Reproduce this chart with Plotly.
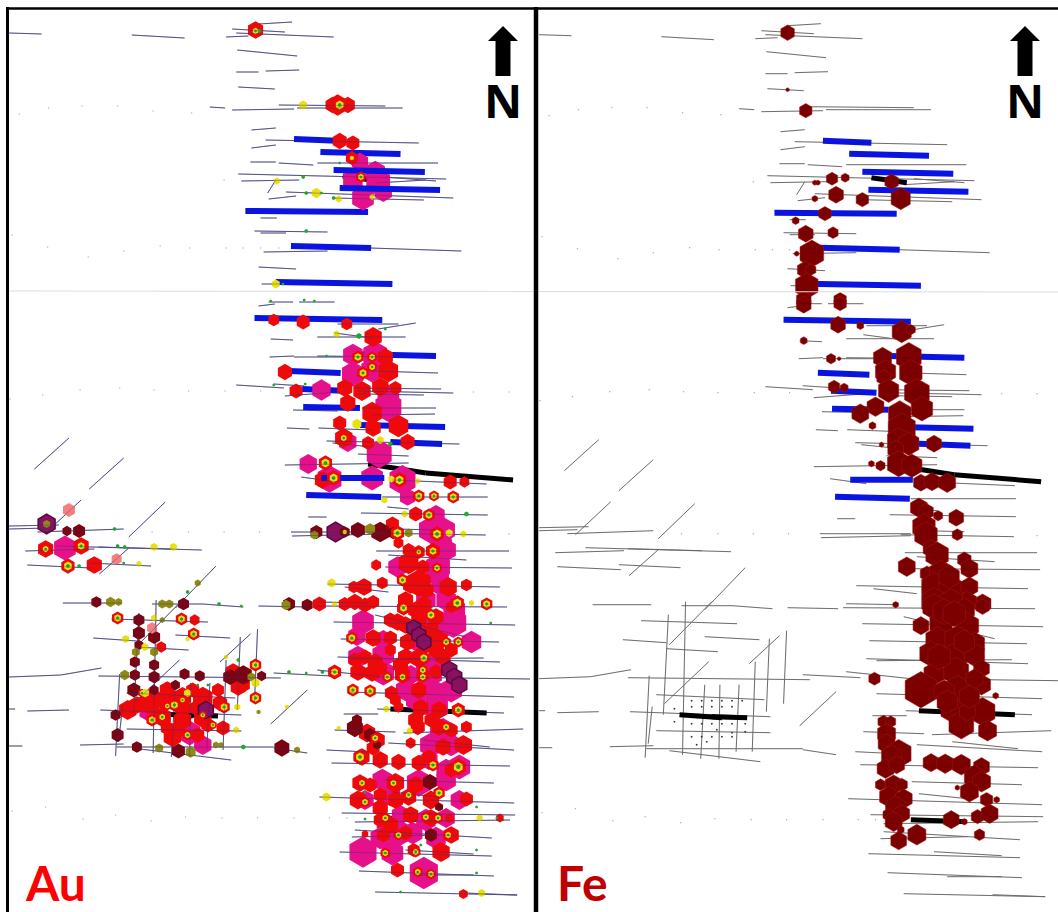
import plotly.graph_objects as go

W, H = 1058, 912

# drill-hole traces as (x0, y0, x1, y1), shared by the two maps
holes = [
 (9,33,41,34),(130,35,182,38),(229,29,281,32),(223,37,245,36),(233,33,329,37),(255,24,288,22),
 (234,50,293,56),(233,72,255,72),(262,71,295,70),(235,87,271,89),(207,107,222,108),(229,110,290,109),
 (275,105,380,106),(293,108,397,108),(248,130,272,128),(262,140,413,143),(248,148,272,145),(247,162,272,162),
 (275,163,309,165),(313,163,432,163),(235,174,440,179),(238,181,295,180),(264,193,272,180),(282,192,447,198),
 (265,199,292,196),(328,198,418,200),(257,218,273,218),(251,231,323,232),(257,233,282,233),(260,252,323,251),
 (365,248,455,251),(255,267,292,269),(258,284,277,284),(380,177,430,181),(370,183,420,180),
 (255,306,271,304),(265,302,289,302),(295,302,330,302),(333,324,393,324),(373,329,410,323),(313,337,400,337),
 (330,333,367,338),(267,339,289,340),(266,357,290,356),(290,357,340,357),(313,356,400,357),(367,371,432,373),
 (233,385,280,388),(270,384,300,386),(281,396,333,392),(350,388,435,389),(353,391,447,393),(357,394,418,395),
 (289,410,333,411),(357,408,430,408),(367,415,429,414),(283,428,305,429),(314,428,367,430),(322,441,453,444),
 (328,443,367,447),(353,454,403,456),(281,465,403,463),(297,477,333,482),(387,480,480,484),(377,497,481,497),
 (382,507,403,509),(304,517,322,517),(356,513,481,515),(287,532,377,532),(288,536,377,534),(390,529,430,530),
 (367,533,479,535),(371,551,502,551),(383,555,460,560),(380,567,505,568),(323,584,493,587),(340,587,383,592),
 (313,602,363,603),(310,606,500,607),
 (34,469,68,438),(88,489,122,458),(45,533,80,500),(127,537,163,502),(98,574,127,548),(173,608,213,566),
 (9,526,58,525),(9,529,47,528),(37,532,122,529),(25,551,93,549),(55,546,199,550),(97,547,170,549),
 (27,565,90,568),(88,563,149,566),(62,603,120,603),(150,604,200,604),(200,604,240,607),(255,606,305,607),
 (110,619,205,622),(92,638,135,641),(135,647,186,650),(173,635,227,638),(9,677,60,675),(60,675,100,668),
 (97,676,277,678),(270,673,327,676),(125,693,232,698),(9,709,15,709),(27,711,68,710),(99,710,238,715),
 (125,729,238,731),(9,746,22,746),(79,745,122,744),(115,747,270,747),(270,748,303,753),(138,749,228,760),
 (137,613,132,713),(154,600,151,753),(173,683,169,757),(188,683,187,757),(207,683,204,750),(223,660,220,750),
 (237,637,234,710),(254,629,251,702),(118,674,114,756),(121,705,117,742),
 (138,643,180,600),(133,702,177,660),(217,662,247,634),(267,724,303,690),
 (329,622,508,625),(370,615,460,637),(336,639,492,642),(333,657,493,662),(343,659,477,658),(313,670,377,677),
 (377,677,523,679),(343,692,507,697),(372,709,497,713),(339,714,373,714),(330,730,390,732),(398,733,516,729),
 (383,743,507,750),(322,750,363,752),(418,740,483,747),(327,763,503,766),(378,780,487,783),(385,792,433,797),
 (315,797,507,803),(337,813,508,815),(350,822,503,820),(350,830,485,838),(347,837,433,835),(335,852,485,856),
 (400,850,467,854),(354,871,487,876),(413,875,467,875),(370,892,510,895),(458,893,510,895),
]

blue_under = [(290,139,338,141),(316,152,395,154),(242,211,363,212),(287,246,366,248),(272,282,387,284),
              (251,318,377,320),(345,354,430,356),(285,371,336,373),(298,389,343,391),(299,407,355,408),
              (355,425,439,427),(385,442,436,444),(302,495,376,497)]
blue_over = [(329,170,419,172),(335,188,434,190),(317,478,379,478)]
black_bars = [(338,176,373,181),(363,464,420,473),(420,473,506,480),(148,713,190,716),(180,715,215,716),(385,709,480,713),(377,818,432,820)]

specks = [(19,114),(48,108),(81,106),(116,106),(151,111),(189,113),(221,180),(12,235),(47,247),(87,257),(122,251),
          (158,246),(187,248),(223,248),(240,248),(257,248),(275,248),(10,399),(42,395),(79,390),(118,388),(152,390),
          (186,391),(222,391),(257,391),(467,392),(502,392),(150,532),(186,532),(221,532),(256,532),(502,534),
          (12,811),(45,807),(82,819),(114,815),(149,821),(183,817),(219,818),(254,818),(290,818),(325,818),(342,818)]

fe_grid = [(160,699),(170,699),(180,699),(190,699),(200,699),(210,699),(160,705),(170,705),(180,705),(190,705),(200,705),
           (143,707),(160,722),(170,722),(180,722),(190,722),(200,722),(213,722),(143,720),(160,735),(170,735),(180,735),
           (190,735),(200,735),(213,730),(165,743),(175,740),(200,731),(185,728)]

# Au assay samples as (x, y, grade class size)
au_pink = [(355,162,15),(370,172,18),(348,180,18),(373,182,22),(378,192,16),(358,198,20),(348,355,18),(370,355,22),
           (348,374,20),(367,370,20),(317,390,17),(383,407,24),(383,397,20),(343,442,16),(374,454,23),(304,464,16),
           (325,479,22),(367,478,20),(397,480,24),(402,497,14),(425,530,22),(440,550,18),(392,567,17),(432,567,22),
           (64,548,20),(358,622,20),(353,657,18),(378,655,20),(378,673,20),(447,623,24),(465,642,18),(423,673,24),
           (430,707,22),(437,733,24),(453,767,20),(423,760,16),(377,780,18),(413,783,22),(393,833,22),(358,852,25),
           (387,853,20),(418,873,26),(420,820,18),(380,823,16),(407,833,18),(433,630,18),(430,693,20),(187,733,20),
           (435,585,18),(420,600,18),(448,610,20),(432,660,18),(453,800,16),(440,600,18),(430,515,16),(438,530,20),
           (435,545,20),(432,575,20),(410,700,18),(445,690,20),(445,745,18),(425,745,20),(440,770,18),(440,780,18),
           (360,800,16),(385,795,18),(395,815,16),(440,818,16),(375,838,18),(430,838,18),(200,745,16),(145,712,14),
           (378,640,16),(352,636,16),(410,640,18),(420,620,18),(405,675,16),(400,690,18)]
au_red = [(252,30,14),(328,105,13),(333,105,17),(343,105,13),(335,141,13),(348,143,12),(347,158,11),(270,320,10),
          (299,322,12),(342,324,10),(368,337,16),(380,357,14),(281,372,13),(383,371,18),(292,391,12),(340,388,14),
          (357,391,16),(375,387,15),(390,388,11),(343,403,14),(367,413,18),(368,428,14),(335,423,12),(393,426,18),
          (339,438,16),(363,443,11),(402,442,13),(318,480,14),(444,482,12),(458,482,9),(410,514,12),(387,524,12),
          (427,551,13),(413,552,11),(403,550,11),(393,543,9),(371,565,9),(403,563,18),(417,567,12),(460,585,10),
          (442,587,16),(413,583,22),(405,585,14),(377,583,10),(359,587,14),(349,587,10),(315,604,12),(340,604,11),
          (350,602,13),(368,602,11),(45,549,14),(80,546,14),(93,565,14),
          (392,622,14),(368,638,14),(402,642,14),(433,640,16),(413,620,14),(430,617,14),(418,605,14),(398,608,12),
          (360,657,12),(370,662,14),(400,657,14),(413,658,16),(437,657,14),(353,672,14),(367,673,14),(397,675,14),
          (417,675,12),(348,691,8),(365,691,8),(386,693,12),(413,690,14),(415,708,14),(433,710,14),(452,710,12),
          (393,707,9),(412,727,13),(433,727,14),(460,727,10),(457,745,16),(437,747,14),(405,743,9),(362,733,15),
          (372,740,14),(357,757,14),(375,760,14),(393,762,13),(423,757,12),(413,763,13),(355,783,14),(390,783,16),
          (353,800,15),(375,808,14),(403,797,14),(425,800,15),(460,799,12),(443,818,8),(493,818,7),(375,820,12),
          (360,834,6),(378,835,12),(445,835,14),(435,852,16),(408,850,11),(392,870,12),(457,894,8),
          (126,710,16),(147,703,18),(163,700,18),(180,697,16),(200,698,18),(217,703,13),(160,717,16),(180,720,16),
          (200,718,16),(220,728,12),(170,737,16),(159,647,9),(192,620,9),(235,687,14),(330,672,12),
          (410,610,14),(445,607,10),(385,650,10),(420,645,14),(390,700,10),(400,625,14),(425,630,14),(385,638,12),
          (395,665,14),(430,672,12),(375,668,12),(350,660,12),(385,620,12),(430,650,14),(445,650,12),(410,720,14),
          (425,720,12),(445,730,12),(368,748,12),(375,795,12),(390,800,14),(410,785,14),(365,785,12),(385,825,14),
          (405,815,14),(425,818,14),(400,833,12),(165,690,14),(150,695,12),(195,708,14),(215,690,11),(175,730,14),
          (150,705,14),(195,735,12),(165,728,12),(445,770,12),(400,600,14),(420,590,14),(360,605,12),
          (135,705,14),(190,690,12),(205,725,12),(180,708,14),(230,672,14),(240,685,12)]
au_dark = [(66,531,9),(78,531,12),(312,532,12),(340,532,10),(353,530,14),(375,532,18),(388,533,11),(95,602,10),(181,604,11),
           (285,604,12),(303,605,11),(137,620,11),(137,633,12),(133,662,10),(132,690,13),(152,637,12),(152,665,10),
           (152,677,11),(182,674,10),(197,676,10),(227,677,14),(240,675,17),(258,676,9),(114,715,10),(116,735,12),
           (135,747,10),(176,751,13),(278,748,15),(173,685,9),(350,728,16),(352,720,10),(424,782,14),(433,807,8),(425,835,12),
           (137,645,9),(133,675,10),(152,690,9),(365,735,12),(372,745,8)]
au_purple = [(46,524,17),(331,532,17),(203,710,15),(408,628,14),(413,635,14),(418,642,14),(443,670,15),(448,677,15),(453,685,15)]
au_salmon = [(68,510,12),(115,559,10),(150,628,10)]
au_olive = [(46,524,7),(310,535,8),(365,529,10),(403,533,8),(109,602,9),(117,602,7),(160,604,8),(167,604,8),(195,583,6),
            (282,605,9),(134,652,8),(123,675,9),(152,652,8),(248,677,8),(157,748,8),(188,752,10),(213,745,6),(218,745,5),
            (293,750,6),(255,712,4),(160,620,5)]
au_yellow = [(299,105,8),(273,181,6),(312,193,9),(334,199,6),(367,197,5),(347,158,4),(272,284,8),(332,334,6),
             (352,424,9),(375,440,7),(386,479,6),(412,481,5),(379,500,6),(399,514,6),(443,533,7),(457,534,6),
             (340,532,4),(152,547,7),(171,547,7),(137,564,5),(327,583,8),(330,604,5),(465,603,5),(322,797,8),(381,709,6),
             (475,893,7),(334,728,4),(404,731,6),(473,818,6),(143,693,8),(143,647,7),(124,639,7),(152,618,6),(185,639,4),
             (252,683,8),(234,707,6),(223,657,4),(283,707,4),(185,693,7),(233,730,6)]
au_green = [(256,31,4),(299,177,4),(302,193,4),(317,193,3),(329,198,4),(302,231,4),(279,284,3),(335,163,3),(354,336,6),
            (385,444,5),(460,514,5),(113,529,4),(116,546,4),(123,547,4),(78,566,4),(122,563,3),(185,592,4),(216,604,4),
            (238,606,3),(285,672,4),(302,673,3),(318,672,4),(235,660,4),(240,747,5),(195,685,3),(205,685,3),(300,300,3),
            (310,301,3),(267,301,3),(380,329,3),(322,356,3),(270,385,3),(301,384,3),(484,623,3),(360,792,3),(470,807,3),
            (490,818,3),(360,819,3),(470,850,3),(470,873,3),(415,845,3),(395,892,3)]
# concentric red / yellow / green samples
au_rings = [(252,31,5),(335,105,7),(356,177,5),(321,463,7),(329,478,7),(394,480,7),(413,496,6),(428,496,5),(447,497,6),
            (423,515,6),(392,533,7),(431,534,7),(67,566,7),(397,580,6),(451,603,7),(480,604,6),(116,618,6),
            (179,619,6),(191,634,6),(252,665,6),(252,698,6),(150,720,6),(172,705,6),(221,707,6),(398,608,6),(425,615,6),
            (440,642,5),(452,642,5),(418,658,6),(417,670,5),(417,677,5),(382,677,5),(397,677,5),(347,638,6),(365,691,6),
            (348,690,6),(452,710,6),(440,727,5),(355,757,7),(452,767,8),(427,765,6),(433,793,6),(403,795,5),(360,802,5),
            (370,738,5),(412,872,5),(425,874,5),(393,835,5),(380,853,5),(410,852,5),(442,835,5),(420,817,5),(432,818,5),
            (380,818,5),(357,783,5),(388,783,5),(427,551,6),(431,568,5),(413,552,4),(367,357,5),(353,357,6),(358,373,6),
            (367,367,5),(45,549,5),(80,546,6),(339,438,5),(330,672,6),(160,717,5),(140,693,4),(180,700,4),(200,715,4),
            (165,706,4),(210,725,4),(185,735,5)]

# Fe assay samples as (x, y, grade class size)
fe_samples = [(255,31,12),(255,88,3),(273,109,11),(299,177,10),(312,176,7),(282,181,4),(285,181,4),(303,193,13),(329,198,11),
 (367,197,17),(282,197,5),(358,180,12),(292,212,11),(263,219,6),(273,232,13),(300,231,9),(264,252,4),(279,252,21),(272,268,13),
 (278,268,9),(274,284,20),(271,298,13),(307,298,11),(271,303,13),(307,302,11),(305,323,13),(327,324,6),(368,330,17),(377,328,8),
 (271,339,6),(298,357,8),(306,357,3),(349,356,16),(375,355,22),(352,370,18),(377,371,20),(350,376,12),(301,385,10),(311,386,7),
 (355,389,18),(383,391,22),(388,407,19),(342,405,15),(327,412,15),(366,412,20),(339,424,6),(368,427,24),(365,439,20),(375,442,18),
 (400,442,13),(348,443,4),(362,448,14),(338,462,5),(347,464,8),(365,462,20),(378,464,18),(387,481,13),(398,480,14),(413,481,15),
 (385,506,15),(392,510,13),(404,514,8),(422,516,13),(390,525,20),(392,533,20),(423,533,9),(397,547,14),(403,553,20),(430,558,12),
 (435,567,15),(373,565,15),(393,572,12),(407,572,21),(400,585,22),(417,588,22),(435,585,15),(362,603,5),(448,602,15),(400,600,22),
 (433,600,16),(417,600,20),(400,605,20),(430,608,18),(448,605,12),(387,624,14),(407,622,20),(433,624,20),(403,638,20),(423,638,22),
 (440,642,18),(397,652,20),(420,655,22),(440,653,18),(447,667,14),(400,672,18),(422,670,22),(447,683,16),(387,688,28),(423,688,22),
 (440,677,15),(341,677,10),(418,708,20),(448,710,22),(427,723,22),(453,729,16),(461,694,5),(433,710,14),
 (350,720,10),(357,720,9),(353,732,16),(353,742,15),(365,752,22),(358,755,18),(352,767,15),(363,763,14),(397,761,14),(411,762,15),
 (427,763,16),(447,765,14),(440,775,18),(447,780,16),(435,790,16),(452,798,11),(462,798,5),(347,783,9),(360,783,15),(368,783,10),
 (355,795,16),(370,797,15),(362,806,18),(355,813,10),(368,812,14),(360,820,15),(417,818,14),(430,820,5),(443,815,11),(455,812,15),
 (367,828,6),(365,839,14),(383,833,16),(445,833,9),(423,786,4),(415,575,18),(410,610,20),(420,612,20),(410,690,18),(435,695,18),
 (405,655,20),(430,640,18),(413,700,18)]

N_LEFT = (503, 100)
N_RIGHT = (1025, 100)
LABELS = [("Au", 23, "#ff0000"), ("Fe", 555, "#c00000")]
GAIN_AU, GAIN_FE, GAIN_RING = 1.25, 1.3, 1.15
X_SPAN = 522.7  # map units across each panel


def seg_xy(segs):
    xs, ys = [], []
    for x0, y0, x1, y1 in segs:
        xs += [x0, x1, None]
        ys += [y0, y1, None]
    return xs, ys


def line_trace(segs, color, width, axis, opacity=1.0):
    xs, ys = seg_xy(segs)
    return go.Scatter(x=xs, y=ys, mode="lines", line=dict(color=color, width=width), opacity=opacity,
                      xaxis="x" + axis, yaxis="y" + axis, hoverinfo="skip", showlegend=False)


def marker_trace(pts, color, axis, edge=None, edge_w=0, gain=1.0):
    return go.Scatter(x=[p[0] for p in pts], y=[p[1] for p in pts], mode="markers",
                      marker=dict(symbol="hexagon", color=color, opacity=1, size=[p[2] * gain for p in pts],
                                  line=dict(color=edge or color, width=edge_w)),
                      xaxis="x" + axis, yaxis="y" + axis, hoverinfo="skip", showlegend=False)


fig = go.Figure()
LINE_AU, LINE_FE = "#6a6a90", "#7c7c7c"
BLUE = "#0a14e0"

# ---- Au map
fig.add_trace(line_trace(holes, LINE_AU, 1, ""))
fig.add_trace(marker_trace([(x, y, 1.5) for x, y in specks], "#bbbbbb", ""))
fig.add_trace(line_trace(blue_under, BLUE, 6, ""))
fig.add_trace(line_trace(black_bars, "#000000", 5, ""))
fig.add_trace(marker_trace(au_pink, "#e5108a", "", gain=GAIN_AU))
fig.add_trace(marker_trace(au_red, "#ee0a0a", "", gain=GAIN_AU))
fig.add_trace(marker_trace(au_purple, "#8a1060", "", "#5a0840", 1.5, gain=GAIN_RING))
fig.add_trace(marker_trace(au_dark, "#7c0410", "", gain=GAIN_RING))
fig.add_trace(marker_trace(au_salmon, "#f47f7f", "", gain=GAIN_RING))
fig.add_trace(marker_trace(au_olive, "#8f8a14", "", gain=GAIN_RING))
fig.add_trace(line_trace(blue_over, BLUE, 6, ""))
fig.add_trace(marker_trace([(x, y, s * 1.9) for x, y, s in au_rings], "#ee0a0a", "", gain=GAIN_RING))
fig.add_trace(marker_trace([(x, y, s * 1.1) for x, y, s in au_rings], "#e8e010", "", gain=GAIN_RING))
fig.add_trace(marker_trace(au_yellow, "#e8e010", "", gain=GAIN_RING))
fig.add_trace(line_trace(holes, "#2c2c78", 0.8, "", 0.45))
fig.add_trace(marker_trace([(x, y, s * 0.5) for x, y, s in au_rings], "#1f9a2a", "", gain=GAIN_RING))
fig.add_trace(marker_trace(au_green, "#1fa82a", ""))

# ---- Fe map
fig.add_trace(line_trace(holes, LINE_FE, 1, "2"))
fig.add_trace(marker_trace([(x, y, 1.5) for x, y in specks], "#aaaaaa", "2"))
fig.add_trace(marker_trace([(x, y, 2) for x, y in fe_grid], "#333333", "2"))
fig.add_trace(line_trace(blue_under + blue_over, BLUE, 6, "2"))
fig.add_trace(line_trace(black_bars, "#000000", 5, "2"))
fig.add_trace(marker_trace(fe_samples, "#7c0000", "2", "#a01818", 0.5, gain=GAIN_FE))
fig.add_trace(line_trace(holes, "#300000", 0.6, "2", 0.2))

shapes = []


def px_line(x0, y0, x1, y1, color, w):
    shapes.append(dict(type="line", xref="paper", yref="paper", x0=x0 / W, x1=x1 / W, y0=1 - y0 / H, y1=1 - y1 / H,
                       line=dict(color=color, width=w), layer="above"))


px_line(9, 291, 1058, 292, "#dcdcdc", 1)
px_line(7.5, 7, 7.5, 912, "#000000", 3)
px_line(536, 7, 536, 912, "#000000", 4.5)
px_line(6, 8.5, 1058, 8.5, "#000000", 2.5)

annotations = []
for (cx, top) in [(503, 26), (1025, 26)]:
    pts = [(cx, top), (cx + 15, top + 15), (cx + 7.5, top + 15), (cx + 7.5, top + 50), (cx - 7.5, top + 50),
           (cx - 7.5, top + 15), (cx - 15, top + 15)]
    path = "M " + " L ".join(f"{x / W:.5f} {1 - y / H:.5f}" for x, y in pts) + " Z"
    shapes.append(dict(type="path", xref="paper", yref="paper", path=path, fillcolor="#000000",
                       line=dict(color="#000000", width=0), layer="above"))

for cx, cy in (N_LEFT, N_RIGHT):
    annotations.append(dict(text="<b>N</b>", x=cx / W, y=1 - cy / H, xref="paper", yref="paper", showarrow=False,
                            font=dict(family="Noto Sans", size=47, color="#000000"), xanchor="center", yanchor="middle"))
for text, x, color in LABELS:
    annotations.append(dict(text=f"<b>{text}</b>", x=x / W, y=1 - 882 / H, xref="paper", yref="paper", showarrow=False,
                            font=dict(family="Lato", size=48, color=color), xanchor="left", yanchor="middle"))

hidden = dict(visible=False, showgrid=False, zeroline=False, fixedrange=True)
fig.update_layout(
    width=W, height=H, margin=dict(l=0, r=0, t=0, b=0, pad=0),
    paper_bgcolor="white", plot_bgcolor="rgba(0,0,0,0)", showlegend=False,
    xaxis=dict(domain=[0, 530 / W], range=[0, X_SPAN], **hidden),
    yaxis=dict(domain=[0, 1], range=[912, 0], **hidden),
    xaxis2=dict(domain=[530 / W, 1], range=[0, X_SPAN], **hidden),
    yaxis2=dict(domain=[0, 1], range=[910.3, -1.7], **hidden),
    shapes=shapes, annotations=annotations,
)

fig.write_html("out.html", config=dict(displayModeBar=False),
               post_script="document.body.style.margin='0';document.documentElement.style.overflow='hidden';")
